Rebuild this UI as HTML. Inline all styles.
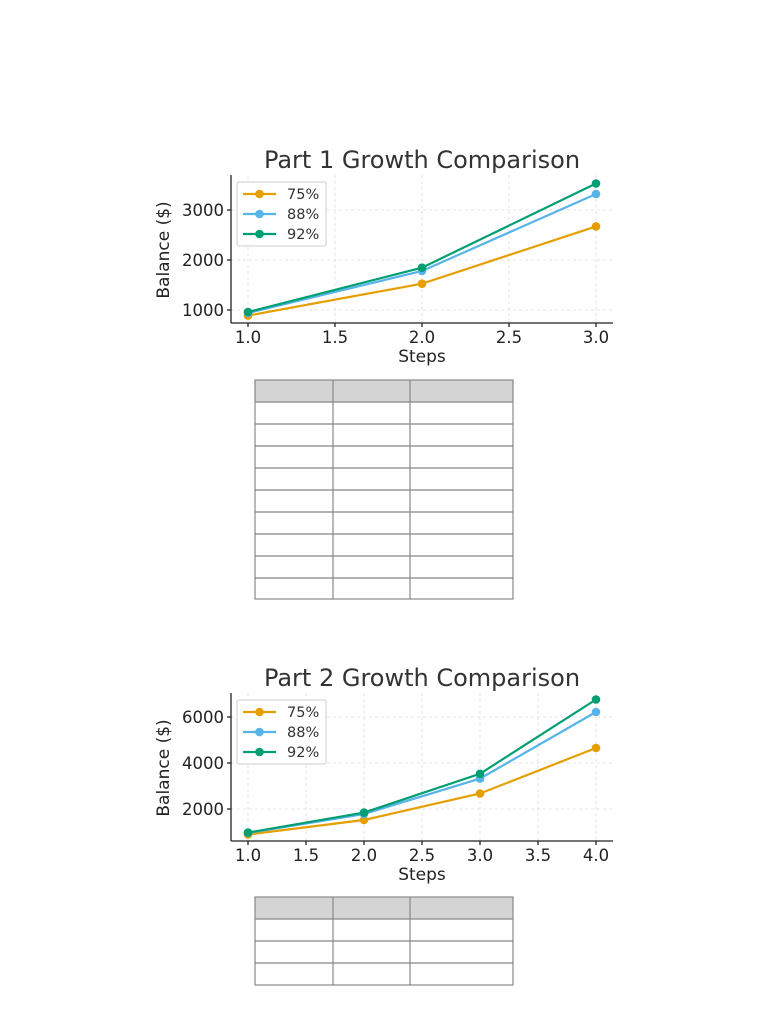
<!DOCTYPE html>
<html><head><style>body{margin:0;background:#fff}svg{display:block}</style></head><body>
<svg width="768" height="1024" xmlns="http://www.w3.org/2000/svg" font-family="DejaVu Sans, sans-serif">
<rect width="768" height="1024" fill="#fff"/>
<!-- Chart 1 -->
<g stroke="#ddd" stroke-dasharray="3,3" stroke-width="0.8">
<line x1="248" y1="175" x2="248" y2="323"/><line x1="335" y1="175" x2="335" y2="323"/><line x1="422" y1="175" x2="422" y2="323"/><line x1="509" y1="175" x2="509" y2="323"/><line x1="596" y1="175" x2="596" y2="323"/>
<line x1="231" y1="310" x2="613" y2="310"/><line x1="231" y1="260" x2="613" y2="260"/><line x1="231" y1="210" x2="613" y2="210"/>
</g>
<g stroke="#222" stroke-width="1.3"><line x1="231" y1="175" x2="231" y2="323"/><line x1="231" y1="323" x2="613" y2="323"/>
<line x1="248" y1="323" x2="248" y2="327"/><line x1="335" y1="323" x2="335" y2="327"/><line x1="422" y1="323" x2="422" y2="327"/><line x1="509" y1="323" x2="509" y2="327"/><line x1="596" y1="323" x2="596" y2="327"/>
<line x1="227" y1="310" x2="231" y2="310"/><line x1="227" y1="260" x2="231" y2="260"/><line x1="227" y1="210" x2="231" y2="210"/></g>
<text x="422" y="168" font-size="24" fill="#333" text-anchor="middle">Part 1 Growth Comparison</text>
<g font-size="16.5" fill="#222" text-anchor="middle"><text x="248" y="343">1.0</text><text x="335" y="343">1.5</text><text x="422" y="343">2.0</text><text x="509" y="343">2.5</text><text x="596" y="343">3.0</text></g>
<g font-size="16.5" fill="#222" text-anchor="end"><text x="224" y="316">1000</text><text x="224" y="266">2000</text><text x="224" y="216">3000</text></g>
<text x="422" y="362" font-size="17" fill="#222" text-anchor="middle">Steps</text>
<text transform="translate(169,250) rotate(-90)" font-size="17" fill="#222" text-anchor="middle">Balance ($)</text>
<g stroke-width="2.2" fill="none">
<polyline stroke="#E69F00" points="248,315.6 422,283.7 596,226.4"/>
<polyline stroke="#56B4E9" points="248,313 422,271 596,194"/>
<polyline stroke="#009E73" points="248,312 422,267.7 596,183.5"/></g>
<g fill="#E69F00"><circle cx="248" cy="315.6" r="4.3"/><circle cx="422" cy="283.7" r="4.3"/><circle cx="596" cy="226.4" r="4.3"/></g>
<g fill="#56B4E9"><circle cx="248" cy="313" r="4.3"/><circle cx="422" cy="271" r="4.3"/><circle cx="596" cy="194" r="4.3"/></g>
<g fill="#009E73"><circle cx="248" cy="312" r="4.3"/><circle cx="422" cy="267.7" r="4.3"/><circle cx="596" cy="183.5" r="4.3"/></g>
<rect x="237" y="182" width="89" height="64" fill="#fff" stroke="#ccc" rx="2"/>
<g stroke-width="2.2"><line x1="243" y1="194" x2="276" y2="194" stroke="#E69F00"/><line x1="243" y1="214" x2="276" y2="214" stroke="#56B4E9"/><line x1="243" y1="234" x2="276" y2="234" stroke="#009E73"/></g>
<circle cx="259.5" cy="194" r="4.3" fill="#E69F00"/><circle cx="259.5" cy="214" r="4.3" fill="#56B4E9"/><circle cx="259.5" cy="234" r="4.3" fill="#009E73"/>
<g font-size="14.5" fill="#333"><text x="287" y="199">75%</text><text x="287" y="219">88%</text><text x="287" y="239">92%</text></g>
<!-- Table 1 -->
<rect x="255" y="380" width="258" height="22" fill="#d4d4d4"/>
<g stroke="#888" stroke-width="1.2" fill="none">
<rect x="255" y="380" width="258" height="219"/>
<line x1="333" y1="380" x2="333" y2="599"/><line x1="410" y1="380" x2="410" y2="599"/>
<line x1="255" y1="402" x2="513" y2="402"/><line x1="255" y1="424" x2="513" y2="424"/><line x1="255" y1="446" x2="513" y2="446"/><line x1="255" y1="468" x2="513" y2="468"/><line x1="255" y1="490" x2="513" y2="490"/><line x1="255" y1="512" x2="513" y2="512"/><line x1="255" y1="534" x2="513" y2="534"/><line x1="255" y1="556" x2="513" y2="556"/><line x1="255" y1="578" x2="513" y2="578"/>
</g>
<!-- Chart 2 -->
<g stroke="#ddd" stroke-dasharray="3,3" stroke-width="0.8">
<line x1="248" y1="693" x2="248" y2="841"/><line x1="306" y1="693" x2="306" y2="841"/><line x1="364" y1="693" x2="364" y2="841"/><line x1="422" y1="693" x2="422" y2="841"/><line x1="480" y1="693" x2="480" y2="841"/><line x1="538" y1="693" x2="538" y2="841"/><line x1="596" y1="693" x2="596" y2="841"/>
<line x1="231" y1="809" x2="613" y2="809"/><line x1="231" y1="763" x2="613" y2="763"/><line x1="231" y1="717" x2="613" y2="717"/>
</g>
<g stroke="#222" stroke-width="1.3"><line x1="231" y1="693" x2="231" y2="841"/><line x1="231" y1="841" x2="613" y2="841"/>
<line x1="248" y1="841" x2="248" y2="845"/><line x1="306" y1="841" x2="306" y2="845"/><line x1="364" y1="841" x2="364" y2="845"/><line x1="422" y1="841" x2="422" y2="845"/><line x1="480" y1="841" x2="480" y2="845"/><line x1="538" y1="841" x2="538" y2="845"/><line x1="596" y1="841" x2="596" y2="845"/>
<line x1="227" y1="809" x2="231" y2="809"/><line x1="227" y1="763" x2="231" y2="763"/><line x1="227" y1="717" x2="231" y2="717"/></g>
<text x="422" y="686" font-size="24" fill="#333" text-anchor="middle">Part 2 Growth Comparison</text>
<g font-size="16.5" fill="#222" text-anchor="middle"><text x="248" y="861">1.0</text><text x="306" y="861">1.5</text><text x="364" y="861">2.0</text><text x="422" y="861">2.5</text><text x="480" y="861">3.0</text><text x="538" y="861">3.5</text><text x="596" y="861">4.0</text></g>
<g font-size="16.5" fill="#222" text-anchor="end"><text x="224" y="815">2000</text><text x="224" y="769">4000</text><text x="224" y="723">6000</text></g>
<text x="422" y="880" font-size="17" fill="#222" text-anchor="middle">Steps</text>
<text transform="translate(169,768) rotate(-90)" font-size="17" fill="#222" text-anchor="middle">Balance ($)</text>
<g stroke-width="2.2" fill="none">
<polyline stroke="#E69F00" points="248,834.5 364,820 480,793.5 596,748"/>
<polyline stroke="#56B4E9" points="248,833 364,814 480,778.6 596,712"/>
<polyline stroke="#009E73" points="248,832.6 364,812.6 480,773.8 596,699.5"/></g>
<g fill="#E69F00"><circle cx="248" cy="834.5" r="4.3"/><circle cx="364" cy="820" r="4.3"/><circle cx="480" cy="793.5" r="4.3"/><circle cx="596" cy="748" r="4.3"/></g>
<g fill="#56B4E9"><circle cx="248" cy="833" r="4.3"/><circle cx="364" cy="814" r="4.3"/><circle cx="480" cy="778.6" r="4.3"/><circle cx="596" cy="712" r="4.3"/></g>
<g fill="#009E73"><circle cx="248" cy="832.6" r="4.3"/><circle cx="364" cy="812.6" r="4.3"/><circle cx="480" cy="773.8" r="4.3"/><circle cx="596" cy="699.5" r="4.3"/></g>
<rect x="237" y="700" width="89" height="64" fill="#fff" stroke="#ccc" rx="2"/>
<g stroke-width="2.2"><line x1="243" y1="712" x2="276" y2="712" stroke="#E69F00"/><line x1="243" y1="732" x2="276" y2="732" stroke="#56B4E9"/><line x1="243" y1="752" x2="276" y2="752" stroke="#009E73"/></g>
<circle cx="259.5" cy="712" r="4.3" fill="#E69F00"/><circle cx="259.5" cy="732" r="4.3" fill="#56B4E9"/><circle cx="259.5" cy="752" r="4.3" fill="#009E73"/>
<g font-size="14.5" fill="#333"><text x="287" y="717">75%</text><text x="287" y="737">88%</text><text x="287" y="757">92%</text></g>
<!-- Table 2 -->
<rect x="255" y="897" width="258" height="22" fill="#d4d4d4"/>
<g stroke="#888" stroke-width="1.2" fill="none">
<rect x="255" y="897" width="258" height="88"/>
<line x1="333" y1="897" x2="333" y2="985"/><line x1="410" y1="897" x2="410" y2="985"/>
<line x1="255" y1="919" x2="513" y2="919"/><line x1="255" y1="941" x2="513" y2="941"/><line x1="255" y1="963" x2="513" y2="963"/>
</g>
</svg>
</body></html>
